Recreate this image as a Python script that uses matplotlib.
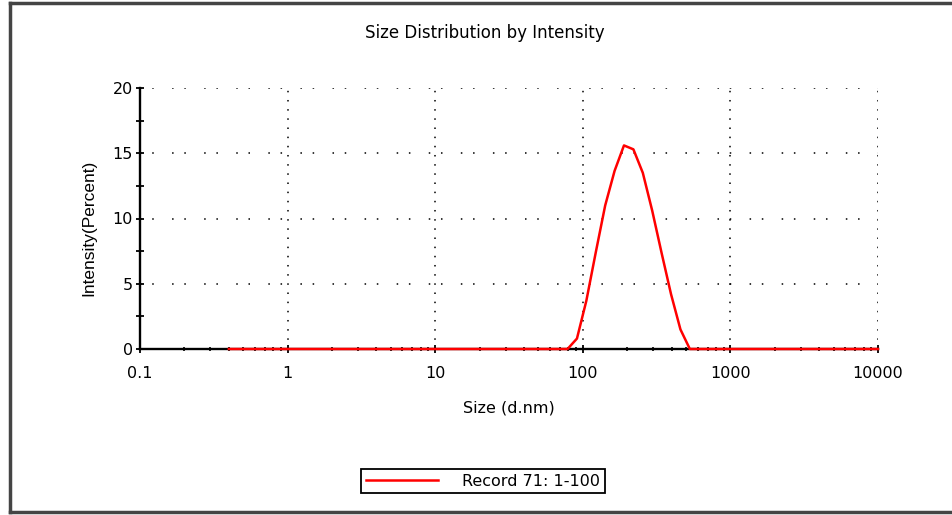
import matplotlib
matplotlib.use("Agg")
import matplotlib.pyplot as plt
from matplotlib.ticker import FixedLocator, NullFormatter
from matplotlib.lines import Line2D

# ---- data ----
sizes = [0.4, 0.4632, 0.5365, 0.6213, 0.7195, 0.8332, 0.9649, 1.117, 1.294, 1.499,
         1.736, 2.010, 2.328, 2.696, 3.122, 3.615, 4.187, 4.849, 5.615, 6.503,
         7.531, 8.721, 10.10, 11.70, 13.54, 15.69, 18.17, 21.04, 24.36, 28.21,
         32.67, 37.84, 43.82, 50.75, 58.77, 68.06, 78.82, 91.28, 105.7, 122.4,
         141.8, 164.2, 190.1, 220.2, 255.0, 295.3, 342.0, 396.1, 458.7, 531.2,
         615.1, 712.4, 825.0, 955.4, 1106, 1281, 1484, 1718, 1990, 2305,
         2669, 3091, 3580, 4145, 4801, 5560, 6439, 7456, 8635, 10000]
intensity = [0.0] * 37 + [0.8, 3.7, 7.4, 11.0, 13.65, 15.6, 15.3, 13.5, 10.6,
                          7.35, 4.2, 1.5] + [0.0] * 21
x_ticks = [0.1, 1, 10, 100, 1000, 10000]
x_tick_labels = ["0.1", "1", "10", "100", "1000", "10000"]
y_ticks = [0, 5, 10, 15, 20]
series_label = "Record 71: 1-100"

plt.rcParams['font.family'] = ['DejaVu Sans']

fig = plt.figure(figsize=(9.53, 5.15), dpi=100)
ax = fig.add_axes([140/953, 1-349/515, 738/953, 261/515])

ax.plot(sizes, intensity, color='#ff0000', lw=1.8, clip_on=False, zorder=4,
        label=series_label)

ax.set_xscale('log')
ax.set_xlim(0.1, 10000)
ax.set_ylim(0, 20)

ax.xaxis.set_major_locator(FixedLocator(x_ticks))
ax.set_xticks(x_ticks)
ax.set_xticklabels(x_tick_labels)
minors = [m * d for d in [0.1, 1, 10, 100, 1000] for m in range(2, 10)]
ax.xaxis.set_minor_locator(FixedLocator(minors))
ax.xaxis.set_minor_formatter(NullFormatter())
ax.set_yticks(y_ticks)
ax.yaxis.set_minor_locator(FixedLocator([2.5, 7.5, 12.5, 17.5]))

ax.yaxis.grid(True, which='major', color='black', linestyle=(0, (1, 7, 1, 12)), lw=1.1)
ax.xaxis.grid(True, which='major', color='black', linestyle=(0, (1, 5)), lw=1.1)

for s in ['top', 'right']:
    ax.spines[s].set_visible(False)
for s in ['left', 'bottom']:
    ax.spines[s].set_color('black')
    ax.spines[s].set_linewidth(1.7)

ax.tick_params(axis='both', which='major', direction='inout', length=6, width=1.3,
               labelsize=11.5, colors='black')
ax.tick_params(axis='x', which='major', pad=9)
ax.tick_params(axis='y', which='major', pad=2)
ax.tick_params(axis='x', which='minor', direction='inout', length=2.5, width=1.2)
ax.tick_params(axis='y', which='minor', direction='inout', length=6, width=1.3)

fig.text(485/953, 1-33/515, "Size Distribution by Intensity", fontsize=12,
         ha='center', va='center')
ax.set_xlabel("Size (d.nm)", fontsize=11.5, labelpad=14)
ax.set_ylabel("Intensity(Percent)", fontsize=12.5,
              family=['Liberation Sans', 'DejaVu Sans'])
ax.yaxis.set_label_coords(-0.0597, 0.4636)

leg = fig.legend(loc='center', bbox_to_anchor=(483/953, 1-481/515), fontsize=11.5,
                 handlelength=4.5, handletextpad=1.5, frameon=True, fancybox=False,
                 borderpad=0.3, framealpha=1)
leg.get_frame().set_edgecolor('black')
leg.get_frame().set_linewidth(1.3)

# outer border
border = dict(color='#444444', lw=2.5, transform=fig.transFigure)
fig.add_artist(Line2D([10/953, 10/953], [1-3/515, 1-512/515], **border))
fig.add_artist(Line2D([10/953, 1], [1-3/515, 1-3/515], **border))
fig.add_artist(Line2D([10/953, 1], [1-512/515, 1-512/515], **border))

fig.savefig("out.png", dpi=100)
